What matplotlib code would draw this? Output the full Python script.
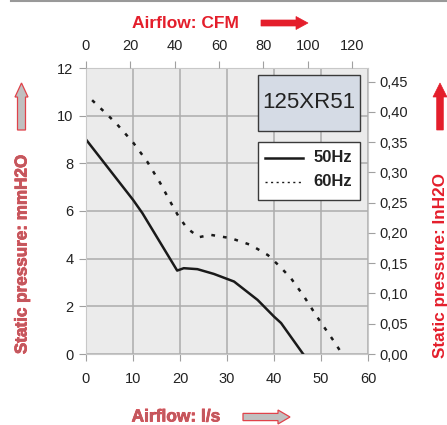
import matplotlib
matplotlib.use("Agg")
import matplotlib.pyplot as plt
import matplotlib.patheffects as pe
from matplotlib.patches import Polygon, Rectangle
from matplotlib.lines import Line2D
from matplotlib.ticker import FuncFormatter

# ---- data ----
flow_50 = [0, 10, 12, 19.4, 20.8, 23.7, 27.2, 31.5, 36.5, 40, 41.5, 46.2]
pres_50 = [9.0, 6.47, 5.91, 3.5, 3.6, 3.56, 3.36, 3.04, 2.27, 1.57, 1.3, 0.0]

flow_60 = [1.3, 4.9, 6.5, 10, 13, 15.8, 17.9, 19.7, 21.5, 24, 26.5, 30.8, 35,
           38.7, 41.1, 43.6, 46.3, 48.9, 50.2, 52.8, 54.5]
pres_60 = [10.65, 9.97, 9.66, 8.88, 8.08, 7.17, 6.4, 5.77, 5.28, 4.9, 5.0, 4.86,
           4.58, 4.15, 3.7, 3.18, 2.44, 1.64, 1.26, 0.52, 0.0]

ls_ticks = [0, 10, 20, 30, 40, 50, 60]
mm_ticks = [0, 2, 4, 6, 8, 10, 12]
cfm_ticks = [0, 20, 40, 60, 80, 100, 120]
in_ticks = [0.0, 0.05, 0.10, 0.15, 0.20, 0.25, 0.30, 0.35, 0.40, 0.45]
series_labels = ["50Hz", "60Hz"]
model = "125XR51"

LS_PER_CFM = 0.4719
MM_PER_IN = 25.4

W, H = 447, 425
fig = plt.figure(figsize=(W / 100, H / 100), dpi=100)
plt.rcParams['font.family'] = ['Liberation Sans', 'DejaVu Sans']

def fx(x):
    return x / W

def fy(y):
    return 1 - y / H

ax = fig.add_axes([fx(86), fy(354), fx(368) - fx(86), fy(68) - fy(354)])
ax.set_facecolor('#ebebeb')
ax.set_xlim(0, 60)
ax.set_ylim(0, 12)
ax.set_xticks(ls_ticks)
ax.set_yticks(mm_ticks)
ax.grid(True, color='#acacac', linewidth=1.1)
ax.set_axisbelow(True)
for s in ax.spines.values():
    s.set_color('#c8c8c8')
    s.set_linewidth(0.8)
ax.tick_params(axis='both', labelsize=10.5, colors='#222222', color='#a0a0a0',
               length=5, width=0.8)
ax.tick_params(axis='x', pad=8)
ax.tick_params(axis='y', pad=4)

ax.plot(flow_50, pres_50, color='#1a1a1a', linewidth=1.8, solid_joinstyle='round')
ax.plot(flow_60, pres_60, color='#1a1a1a', linewidth=1.8, linestyle=(0, (1.5, 3.2)))

# right axis (inH2O)
axr = ax.twinx()
axr.set_ylim(0, 12 / MM_PER_IN)
axr.set_yticks(in_ticks)
axr.yaxis.set_major_formatter(FuncFormatter(lambda v, p: f"{v:.2f}".replace('.', ',')))
axr.tick_params(axis='y', labelsize=10.5, colors='#222222', color='#a0a0a0',
                length=5, width=0.8, pad=3)
for s in axr.spines.values():
    s.set_visible(False)

# top axis (CFM)
axt = ax.twiny()
axt.set_xlim(0, 60 / LS_PER_CFM)
axt.set_xticks(cfm_ticks)
axt.tick_params(axis='x', labelsize=10.5, colors='#222222', color='#a0a0a0',
                length=5, width=0.8, pad=6)
for s in axt.spines.values():
    s.set_visible(False)

# model box
fig.patches.append(Rectangle((fx(258), fy(131)), fx(360) - fx(258), fy(75) - fy(131),
                             transform=fig.transFigure, facecolor='#d5dbe5',
                             edgecolor='#3a3a3a', linewidth=1.0, zorder=5))
fig.text(fx(309), fy(103), model, ha='center', va='center', fontsize=16,
         color='#222222', zorder=6)

# legend box
fig.patches.append(Rectangle((fx(258), fy(200)), fx(360) - fx(258), fy(142) - fy(200),
                             transform=fig.transFigure, facecolor='white',
                             edgecolor='#3a3a3a', linewidth=1.0, zorder=5))
fig.lines.append(Line2D([fx(265), fx(303)], [fy(158), fy(158)], transform=fig.transFigure,
                        color='#1a1a1a', linewidth=1.8, zorder=6))
fig.lines.append(Line2D([fx(265), fx(303)], [fy(182), fy(182)], transform=fig.transFigure,
                        color='#1a1a1a', linewidth=1.0, linestyle=(0, (1.5, 2.5)), zorder=6))
fig.text(fx(352), fy(158), series_labels[0], ha='right', va='center', fontsize=12,
         fontweight='bold', color='#222222', zorder=6)
fig.text(fx(352), fy(182), series_labels[1], ha='right', va='center', fontsize=12,
         fontweight='bold', color='#222222', zorder=6)

# axis titles
RED = '#e41e2b'
outline = [pe.Stroke(linewidth=0.5, foreground='#e5323c'), pe.Normal()]
fig.text(fx(185), fy(23), "Airflow: CFM", ha='center', va='center', fontsize=12.5,
         fontweight='bold', color=RED)
fig.text(fx(176), fy(417), "Airflow: l/s", ha='center', va='center', fontsize=12.5,
         fontweight='bold', color='#bf5a60', path_effects=outline)
fig.text(fx(22), fy(254), "Static pressure: mmH2O", ha='center', va='center',
         rotation=90, fontsize=12.3, fontweight='bold', color='#bf5a60',
         path_effects=outline)
fig.text(fx(441), fy(265), "Static pressure: InH2O", ha='center', va='center',
         rotation=90, fontsize=12.3, fontweight='bold', color=RED)

# arrows (pixel-defined polygons)
def h_arrow(x0, x1, yc, h, hh, L, fc, ec, lw):
    pts = [(x0, yc - h), (x1 - L, yc - h), (x1 - L, yc - hh), (x1, yc),
           (x1 - L, yc + hh), (x1 - L, yc + h), (x0, yc + h)]
    fig.patches.append(Polygon([(fx(a), fy(b)) for a, b in pts], closed=True,
                               transform=fig.transFigure, facecolor=fc,
                               edgecolor=ec, linewidth=lw))

def v_arrow(xc, y_tail, y_tip, h, hh, L, fc, ec, lw):
    pts = [(xc - h, y_tail), (xc - h, y_tip + L), (xc - hh, y_tip + L), (xc, y_tip),
           (xc + hh, y_tip + L), (xc + h, y_tip + L), (xc + h, y_tail)]
    fig.patches.append(Polygon([(fx(a), fy(b)) for a, b in pts], closed=True,
                               transform=fig.transFigure, facecolor=fc,
                               edgecolor=ec, linewidth=lw))

h_arrow(261, 308, 23, 3, 6.5, 12, RED, RED, 0.5)
h_arrow(243, 290, 417, 3.6, 7, 12, '#c0c0c0', '#e0424a', 0.9)
v_arrow(21.5, 130, 83, 4, 6.5, 14, '#c0c0c0', '#e0424a', 0.9)
v_arrow(440, 130, 83, 3.3, 7, 14, RED, RED, 0.5)

# top border line
fig.lines.append(Line2D([fx(11), fx(447)], [fy(0.8), fy(0.8)], transform=fig.transFigure,
                        color='#999999', linewidth=1.5))

fig.savefig("out.png", dpi=100)
